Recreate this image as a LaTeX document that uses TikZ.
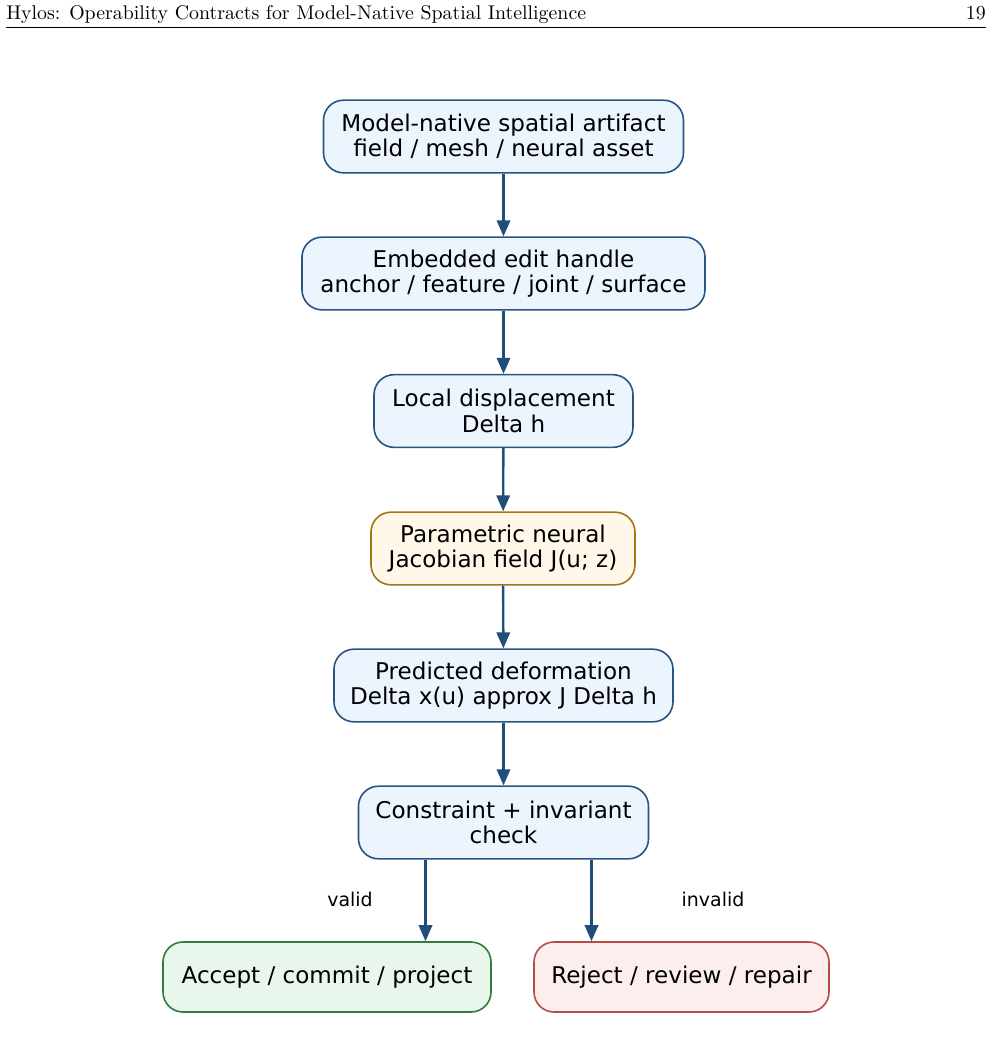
\documentclass[tikz,border=0pt]{standalone}
\usepackage{fontspec}
\newfontfamily\dejavu{DejaVu Sans}
\newfontfamily\headfont{lmroman10-regular.otf}
\usetikzlibrary{arrows.meta}

\definecolor{edgeblue}{RGB}{40,84,130}
\definecolor{fillblue}{RGB}{236,244,254}
\definecolor{edgegold}{RGB}{166,116,22}
\definecolor{fillgold}{RGB}{255,247,232}
\definecolor{edgegreen}{RGB}{46,125,58}
\definecolor{fillgreen}{RGB}{232,246,236}
\definecolor{edgered}{RGB}{184,74,74}
\definecolor{fillred}{RGB}{253,238,238}
\definecolor{flowblue}{RGB}{31,78,121}

\tikzset{
  box/.style={line width=1.2pt, rounded corners=15pt, minimum height=54.5pt,
    align=center, inner sep=0pt, font=\dejavu\fontsize{17.3}{19}\selectfont},
  stage/.style={box, draw=edgeblue, fill=fillblue},
  core/.style={box, draw=edgegold, fill=fillgold},
  pass/.style={box, draw=edgegreen, fill=fillgreen, minimum height=52.5pt},
  fail/.style={box, draw=edgered, fill=fillred, minimum height=52.5pt},
  flow/.style={draw=flowblue, line width=1.8pt, -{Triangle[length=12pt,width=10pt]}},
  tag/.style={font=\dejavu\fontsize{14.2}{16}\selectfont},
  runhead/.style={anchor=base #1, inner sep=0pt, font=\headfont\fontsize{14.9}{17}\selectfont}
}

\begin{document}
\begin{tikzpicture}[x=0.75pt, y=-0.75pt]
\useasboundingbox (0,0) rectangle (992,1047);

% running head
\node[runhead=west] (head) at (6,19)
  {Hylos: Operability Contracts for Model-Native Spatial Intelligence};
\node[runhead=east] (page) at (986,19) {19};
\draw[line width=0.6pt] (6,27) -- (986,27);

% main chain: name / centre y / width / text
\foreach \nm/\yy/\ww/\txt in {
  artifact/136.5/360/{Model-native spatial artifact\\field / mesh / neural asset},
  handle/273.5/403/{Embedded edit handle\\anchor / feature / joint / surface},
  disp/411/259/{Local displacement\\Delta h},
  deform/685.5/339/{Predicted deformation\\Delta x(u) approx J Delta h},
  check/822.5/290/{Constraint + invariant\\check}}
{
  \node[stage, minimum width=\ww*0.75pt] (\nm) at (503.5,\yy) {\txt};
}
\node[core, minimum width=264*0.75pt] (jacobian) at (503,548.5)
  {Parametric neural\\Jacobian field J(u; z)};

% outcomes
\node[pass, minimum width=328*0.75pt] (accept) at (327,977) {Accept / commit / project};
\node[fail, minimum width=295*0.75pt] (reject) at (681.5,977) {Reject / review / repair};

% arrows
\foreach \a/\b in {artifact/handle, handle/disp, disp/jacobian, jacobian/deform, deform/check}
  \draw[flow] (\a) -- (\b);
\draw[flow] ([xshift=-58.5pt]check.south) -- ([xshift=-58.5pt]check.south |- accept.north);
\draw[flow] ([xshift=66pt]check.south) -- ([xshift=66pt]check.south |- reject.north);
\node[tag] (valid) at (350,899) {valid};
\node[tag] (invalid) at (713,899) {invalid};

\end{tikzpicture}
\end{document}
